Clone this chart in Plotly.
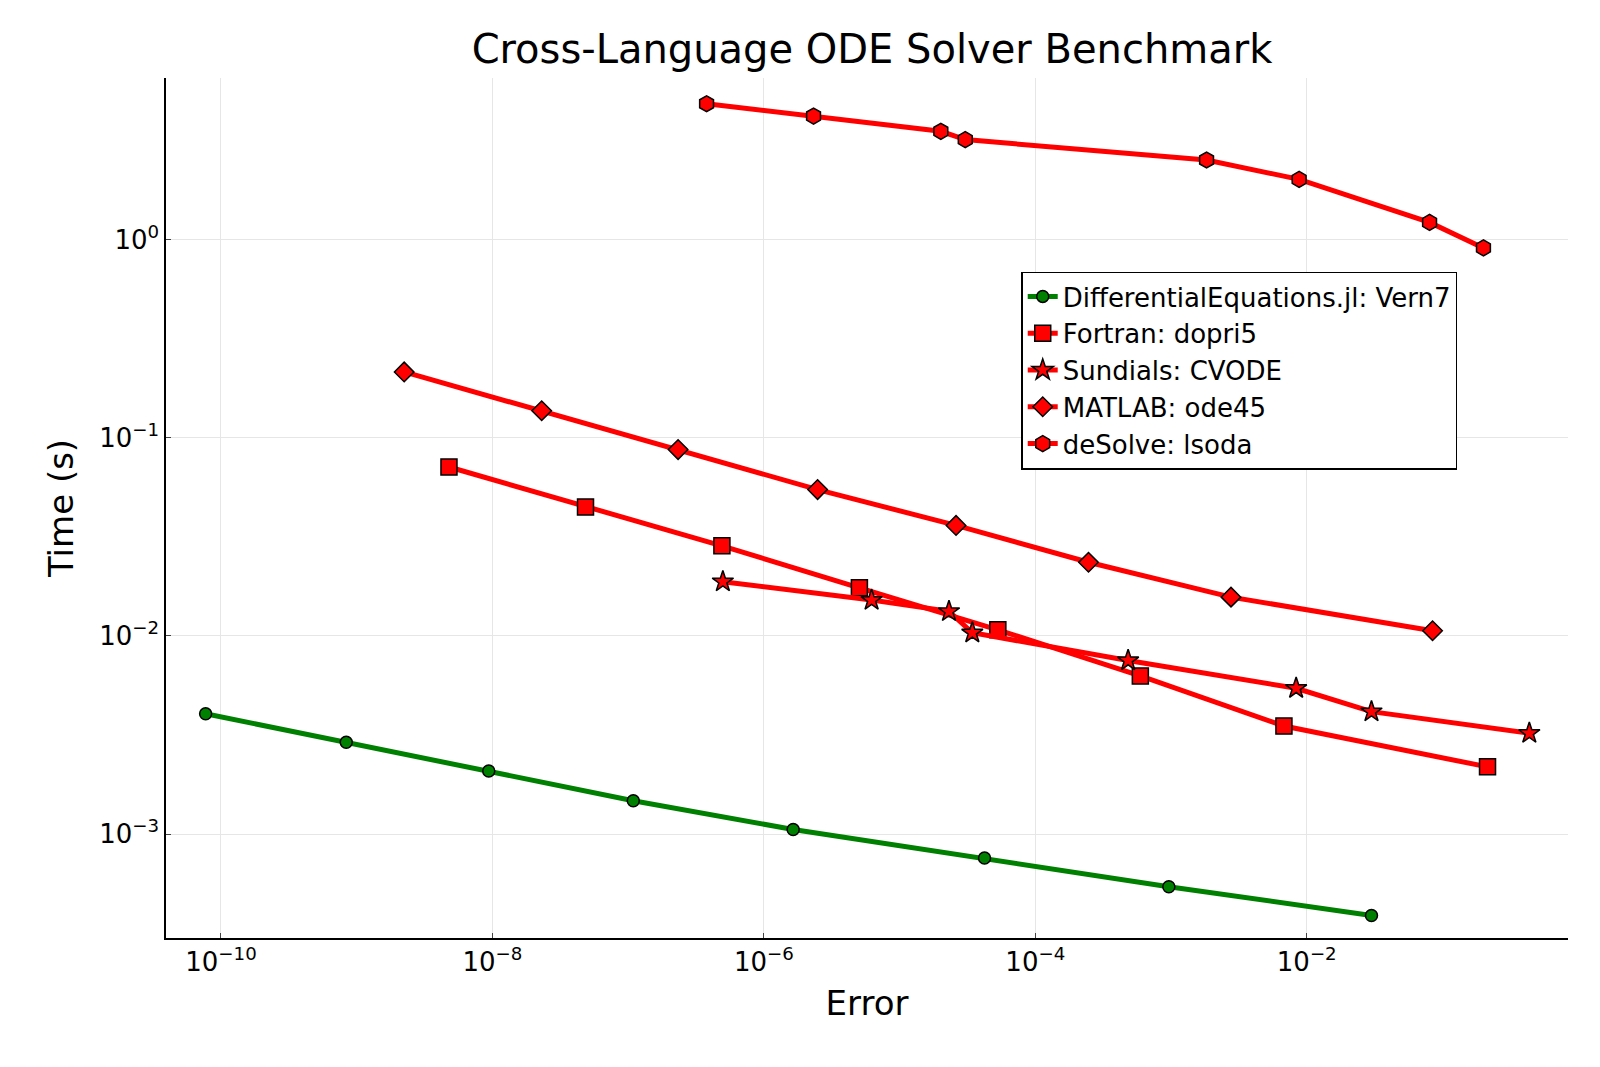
import plotly.graph_objects as go
import numpy as np

# log10 values
vern7_x = [-10.113, -9.077, -8.027, -6.962, -5.784, -4.374, -3.016, -1.523]
vern7_y = [-2.393, -2.537, -2.682, -2.832, -2.977, -3.121, -3.266, -3.411]
dopri5_x = [-8.32, -7.314, -6.309, -5.296, -4.276, -3.226, -2.168, -0.668]
dopri5_y = [-1.147, -1.349, -1.545, -1.757, -1.969, -2.202, -2.455, -2.661]
cvode_x = [-6.302, -5.206, -4.636, -4.464, -3.316, -2.078, -1.523, -0.36]
cvode_y = [-1.726, -1.819, -1.876, -1.984, -2.124, -2.264, -2.382, -2.491]
ode45_x = [-8.65, -7.637, -6.632, -5.604, -4.584, -3.608, -2.558, -1.073]
ode45_y = [-0.667, -0.863, -1.059, -1.261, -1.442, -1.628, -1.804, -1.974]
lsoda_x = [-6.422, -5.634, -4.696, -4.516, -2.738, -2.056, -1.095, -0.698]
lsoda_y = [0.687, 0.625, 0.548, 0.506, 0.403, 0.305, 0.088, -0.041]

series = [
    ("DifferentialEquations.jl: Vern7", vern7_x, vern7_y, "green", "circle", 12),
    ("Fortran: dopri5", dopri5_x, dopri5_y, "red", "square", 16),
    ("Sundials: CVODE", cvode_x, cvode_y, "red", "star", 16),
    ("MATLAB: ode45", ode45_x, ode45_y, "red", "diamond", 15),
    ("deSolve: lsoda", lsoda_x, lsoda_y, "red", "hexagon", 16),
]

fig = go.Figure()
for name, xs, ys, col, sym, sz in series:
    c = "#008000" if col == "green" else "#ff0000"
    fig.add_trace(go.Scatter(
        x=[10**v for v in xs], y=[10**v for v in ys], name=name,
        mode="lines+markers",
        line=dict(color=c, width=5),
        marker=dict(symbol=sym, size=sz, color=c, line=dict(color="black", width=1.5))))

xt = [-10, -8, -6, -4, -2]
yt = [0, -1, -2, -3]
fig.update_layout(
    width=1600, height=1067, paper_bgcolor="white", plot_bgcolor="white",
    font=dict(family="DejaVu Sans", color="black", size=26),
    title=dict(text="Cross-Language ODE Solver Benchmark", x=0.54, xanchor="center",
               y=0.975, font=dict(size=40)),
    margin=dict(l=158, r=40, t=70, b=137),
    legend=dict(x=0.61, y=0.775, xanchor="left", yanchor="top",
                bordercolor="black", borderwidth=1.5, bgcolor="white",
                font=dict(size=26), itemsizing="trace", tracegroupgap=6),
    xaxis=dict(type="log", range=[-10.405, -0.075], title=dict(text="Error", font=dict(size=34)),
               tickvals=[10**v for v in xt], ticktext=["10<sup>−%d</sup>" % -v for v in xt],
               showgrid=True, gridcolor="#e6e6e6", showline=True, linecolor="black", linewidth=1.5,
               ticks="inside", tickfont=dict(size=26), zeroline=False),
    yaxis=dict(type="log", range=[-3.525, 0.817], title=dict(text="Time (s)", font=dict(size=34)),
               tickvals=[10**v for v in yt],
               ticktext=["10<sup>0</sup>"] + ["10<sup>−%d</sup>" % -v for v in yt[1:]],
               showgrid=True, gridcolor="#e6e6e6", showline=True, linecolor="black", linewidth=1.5,
               ticks="inside", tickfont=dict(size=26), zeroline=False),
)
fig.write_html("out.html")
